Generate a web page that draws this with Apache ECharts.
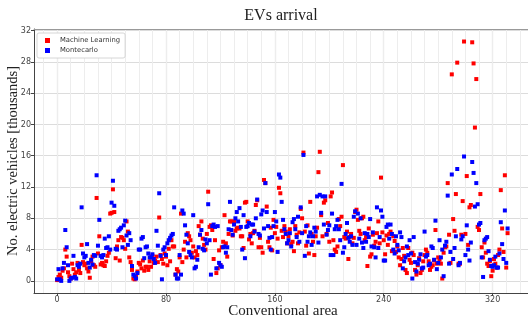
<!DOCTYPE html>
<html><head><meta charset="utf-8">
<script src="https://cdn.jsdelivr.net/npm/echarts@6/dist/echarts.min.js"></script>
<style>html,body{margin:0;padding:0;background:#fff}#c{width:528px;height:320px}</style>
</head><body><div id="c"></div>
<script>
const title = 'EVs arrival';
const xName = 'Conventional area';
const yName = 'No. electric vehicles [thousands]';
const seriesNames = ['Machine Learning', 'Montecarlo'];
const xTicks = [0, 80, 160, 240, 320];
const xMinorTicks = [-10,0,10,20,30,40,50,60,70,80,90,100,110,120,130,140,150,160,170,180,190,200,210,220,230,240,250,260,270,280,290,300,310,320,330,340];
const yTicks = [0, 4, 8, 12, 16, 20, 24, 28, 32];

// value of each conventional area (index = area number), thousands of EVs
const machineLearning = [
0.1,0.5,0.8,0.4,1.3,1.6,4.0,3.1,1.1,0.6,
0.3,2.2,1.5,0.8,1.1,2.3,1.4,1.0,4.6,2.4,
2.0,2.2,1.6,1.2,0.4,2.5,3.1,2.0,1.8,10.6,
3.5,5.7,2.1,2.3,2.0,1.9,2.5,3.2,3.6,8.6,
8.7,11.7,8.8,2.9,4.4,5.2,2.6,5.6,5.5,5.2,
4.1,7.6,6.3,3.0,2.4,1.4,0.3,0.2,0.5,1.2,
2.3,2.1,1.6,2.6,1.3,1.8,1.8,1.4,2.5,1.8,
3.2,2.3,2.6,3.1,2.4,8.1,3.3,2.8,2.2,3.5,
3.1,2.0,4.1,2.5,5.2,4.4,4.4,0.8,1.5,1.2,
3.0,8.6,2.4,4.0,5.0,3.0,6.1,5.7,5.2,3.6,
4.4,3.0,3.8,3.3,7.0,5.9,7.6,5.4,4.6,4.0,
6.0,11.4,6.9,7.1,6.5,2.8,5.2,1.0,1.6,3.9,
2.0,4.3,5.0,8.4,4.8,3.1,6.0,7.6,7.6,5.8,
7.6,6.4,6.7,6.8,6.7,5.7,5.7,4.2,10.0,10.1,
7.6,5.3,6.0,4.8,6.1,6.4,9.7,10.3,4.3,5.5,
4.3,3.6,12.9,12.5,9.5,5.0,4.3,6.8,3.9,7.8,
6.1,6.9,5.4,11.9,11.2,6.4,5.6,7.0,6.3,4.8,
5.7,6.6,4.7,5.0,3.8,7.0,5.9,4.8,6.2,9.2,
8.0,16.4,6.3,4.5,7.1,3.5,10.1,6.0,5.0,3.3,
5.7,6.8,13.9,16.5,8.4,5.7,10.0,10.3,6.0,7.4,
5.0,10.8,11.3,5.2,4.0,3.7,4.4,7.9,7.0,8.2,
14.8,5.6,5.4,6.3,2.8,5.6,6.0,4.8,5.5,8.8,
9.1,7.8,6.4,6.0,8.0,8.2,5.2,5.6,1.9,6.7,
3.1,3.4,5.9,4.5,5.0,6.1,7.6,4.8,13.2,6.2,
5.2,3.4,5.8,4.6,6.0,6.3,3.8,5.7,5.1,3.7,
4.4,3.0,2.0,2.8,4.2,3.2,1.4,1.0,4.2,2.7,
2.3,3.6,3.3,1.4,0.8,2.0,2.9,1.0,1.4,2.5,
3.3,4.0,3.6,2.5,1.4,1.8,2.0,2.6,6.5,2.2,
3.0,2.7,2.2,0.3,3.6,4.3,4.4,12.5,5.9,2.3,
26.4,7.9,6.4,11.1,27.9,2.2,2.2,5.9,10.2,30.6,
6.0,13.4,4.6,9.4,9.7,30.5,27.8,19.6,25.8,6.9,
6.5,11.1,4.3,3.0,4.9,3.6,2.2,1.9,2.5,0.6,
1.3,2.8,2.2,1.7,3.3,4.0,11.6,6.7,3.7,13.5,
1.7,6.1
];
const monteCarlo = [
0.2,1.5,0.2,0.0,1.6,2.3,6.5,4.3,2.0,0.0,
0.3,0.4,3.2,0.5,0.3,2.0,1.8,2.2,9.4,3.5,
3.0,3.2,4.7,2.3,1.7,2.7,2.1,3.3,3.2,13.5,
4.5,7.8,3.2,3.0,3.3,5.4,4.2,4.3,5.7,4.0,
10.0,12.8,9.6,4.1,4.0,6.4,6.6,6.8,4.3,7.1,
7.7,5.8,4.6,6.1,5.2,1.9,0.8,0.6,0.3,1.0,
4.0,4.0,5.4,5.6,2.9,4.3,4.4,3.5,3.0,3.0,
3.4,2.8,2.3,6.4,4.5,11.2,3.2,0.2,4.0,4.3,
3.3,4.8,5.2,5.5,5.8,6.0,9.4,0.8,0.3,0.3,
3.3,0.8,9.0,8.6,7.1,5.9,4.8,3.7,3.3,3.0,
8.4,1.6,1.8,2.7,4.3,5.9,6.5,4.1,3.9,5.3,
4.8,9.8,5.2,0.8,7.0,7.2,6.9,1.6,7.0,2.3,
2.0,1.8,4.3,4.4,3.6,4.3,6.6,10.1,6.5,5.9,
7.2,8.0,8.8,7.6,9.3,6.9,4.0,8.4,2.9,6.9,
7.0,7.4,5.7,7.2,7.2,6.3,8.0,10.4,6.0,5.8,
8.5,9.0,6.7,12.5,8.8,7.0,5.5,4.0,5.6,7.0,
8.8,7.6,3.7,13.6,13.2,10.1,7.8,6.6,6.0,4.8,
5.2,6.1,4.4,7.5,7.9,6.6,5.6,8.2,5.0,9.4,
6.1,16.1,3.2,7.0,5.0,5.7,6.2,4.6,5.7,6.8,
6.3,10.8,4.9,11.0,8.7,10.8,7.2,10.8,5.9,6.5,
7.1,3.3,8.6,3.3,6.6,7.0,7.8,6.6,5.2,12.4,
3.6,4.3,6.0,7.4,5.5,5.0,5.7,4.6,8.2,8.9,
4.6,8.6,5.4,8.0,4.9,4.2,6.1,5.0,6.0,5.6,
7.9,4.4,6.2,4.3,3.0,9.4,4.2,5.6,9.0,8.2,
2.6,2.6,6.9,7.2,5.4,7.2,6.0,4.0,3.5,5.7,
4.6,3.9,6.2,5.6,1.6,2.5,3.0,4.4,3.3,5.2,
3.5,0.3,5.6,2.4,1.2,2.2,2.7,3.4,1.6,1.7,
6.3,3.1,3.3,2.0,2.2,4.4,4.2,2.7,7.7,1.5,
2.3,5.2,3.0,4.0,0.6,4.5,5.0,10.9,2.2,3.7,
13.6,2.8,4.2,5.7,14.3,2.0,2.3,5.3,5.7,15.9,
3.3,7.1,4.0,2.6,4.9,15.2,13.8,9.5,12.5,9.8,
7.2,7.4,3.0,0.5,5.2,5.4,5.6,3.8,2.7,1.9,
1.8,2.0,3.1,1.7,1.7,3.5,7.5,4.7,2.8,9.0,
2.3,6.7
];

const chart = echarts.init(document.getElementById('c'), null, {renderer: 'canvas'});
const serif = '"Liberation Serif", "DejaVu Serif", serif';
const sans = '"DejaVu Sans", sans-serif';
chart.setOption({
  animation: false,
  backgroundColor: '#fff',
  grid: {left: 34, top: 29, right: 0, bottom: 27, containLabel: false},
  graphic: [
    {type: 'text', x: 281, y: 16, style: {text: title, font: '16px ' + serif, fill: '#222', textAlign: 'center', textVerticalAlign: 'middle'}},
    {type: 'text', x: 283, y: 311, style: {text: xName, font: '15px ' + serif, fill: '#222', textAlign: 'center', textVerticalAlign: 'middle'}},
    {type: 'text', x: 13, y: 161, rotation: Math.PI / 2, style: {text: yName, font: '14.5px ' + serif, fill: '#222', textAlign: 'center', textVerticalAlign: 'middle'}}
  ],
  legend: {
    left: 37, top: 33, orient: 'vertical',
    data: seriesNames,
    icon: 'rect', itemWidth: 5, itemHeight: 5, itemGap: 3,
    padding: [4, 5, 4, 8],
    borderColor: '#ccc', borderWidth: 0.8, borderRadius: 2, backgroundColor: '#fff',
    textStyle: {fontSize: 6.8, color: '#333', fontFamily: sans, padding: [0, 0, 0, 5]}
  },
  xAxis: [
    {type: 'value', min: -17, max: 346, position: 'bottom',
     axisLine: {show: true, onZero: false, lineStyle: {color: '#444', width: 1}},
     axisTick: {show: true, length: 3, customValues: xTicks, lineStyle: {color: '#444'}},
     axisLabel: {customValues: xTicks, fontSize: 8, color: '#444', fontFamily: sans, margin: 3},
     splitLine: {show: true, lineStyle: {color: '#d6d6d6', width: 1.2}}},
    {type: 'value', min: -17, max: 346, position: 'top',
     axisLine: {show: true, onZero: false, lineStyle: {color: '#999', width: 1}},
     axisTick: {show: false, customValues: xMinorTicks},
     axisLabel: {show: false, customValues: xMinorTicks},
     splitLine: {show: true, lineStyle: {color: '#ededed', width: 1}}}
  ],
  yAxis: {type: 'value', min: -1.55, max: 32.2,
    axisLine: {show: true, onZero: false, lineStyle: {color: '#444', width: 1}},
    axisTick: {show: true, length: 3, customValues: yTicks, lineStyle: {color: '#444'}},
    axisLabel: {customValues: yTicks, fontSize: 8, color: '#444', fontFamily: sans, margin: 3},
    splitLine: {show: true, lineStyle: {color: '#dcdcdc', width: 1.2}}},
  series: [
    {name: seriesNames[0], type: 'scatter', xAxisIndex: 0, symbol: 'rect', symbolSize: 4,
     itemStyle: {color: '#ff0000', opacity: 1}, data: machineLearning.map((v, i) => [i, v])},
    {name: seriesNames[1], type: 'scatter', xAxisIndex: 0, symbol: 'rect', symbolSize: 4,
     itemStyle: {color: '#0000ff', opacity: 1}, data: monteCarlo.map((v, i) => [i, v])}
  ]
});
</script></body></html>
